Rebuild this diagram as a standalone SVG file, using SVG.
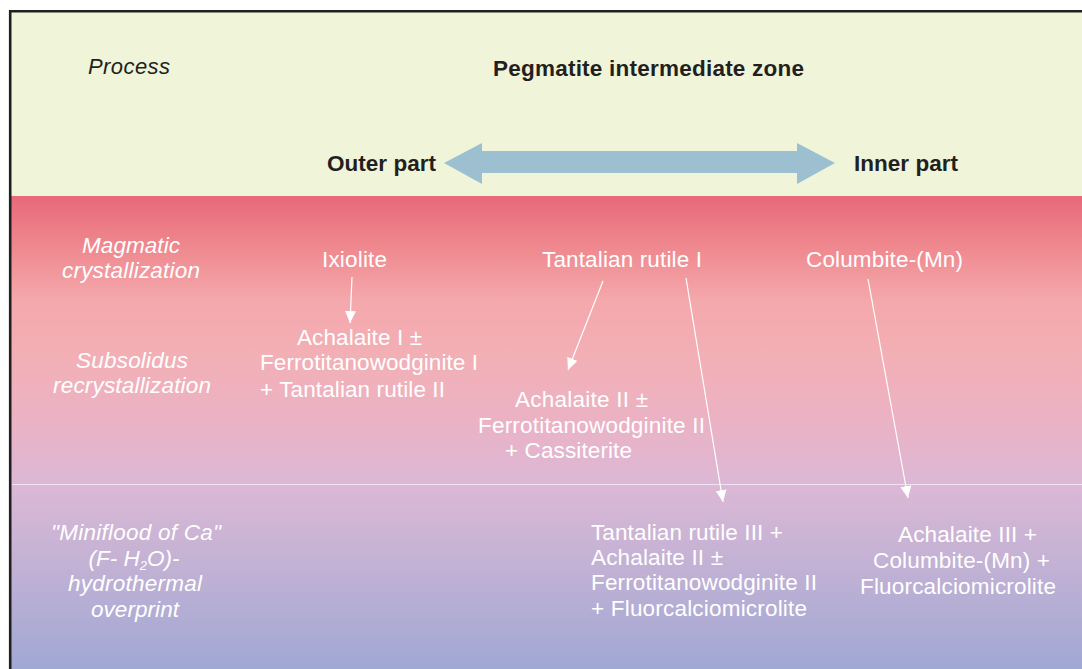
<svg xmlns="http://www.w3.org/2000/svg" width="1082" height="669" viewBox="0 0 1082 669">
<defs>
<linearGradient id="bg" x1="0" y1="196" x2="0" y2="669" gradientUnits="userSpaceOnUse">
<stop offset="0" stop-color="#e8697a"/>
<stop offset="0.114" stop-color="#ef8a90"/>
<stop offset="0.22" stop-color="#f4a8ac"/>
<stop offset="0.347" stop-color="#f2b0b6"/>
<stop offset="0.474" stop-color="#ebb2c4"/>
<stop offset="0.609" stop-color="#dcb8d6"/>
<stop offset="0.77" stop-color="#c4b2d4"/>
<stop offset="1" stop-color="#a0a8d4"/>
</linearGradient>
<marker id="ah" viewBox="0 0 12 11" refX="12" refY="5.5" markerWidth="12" markerHeight="11" markerUnits="userSpaceOnUse" orient="auto">
<path d="M0,0 L12,5.5 L0,11 z" fill="#ffffff"/>
</marker>
</defs>
<style>
.dk{font-family:"Liberation Sans",Arial,sans-serif;fill:#231f20;font-size:22px}
.b{font-weight:bold;font-size:22.5px}
.it{font-style:italic}
.w{font-family:"Liberation Sans",Arial,sans-serif;fill:#ffffff;font-size:22.5px}
.lab{font-family:"Liberation Sans",Arial,sans-serif;fill:#ffffff;font-size:22.5px;font-style:italic;text-anchor:middle}
.con{stroke:#ffffff;stroke-width:1.2;fill:none;marker-end:url(#ah)}
</style>
<rect x="0" y="0" width="1082" height="669" fill="#ffffff"/>
<g id="background">
<rect x="11" y="12" width="1071" height="184" fill="#f0f4d8"/>
<rect x="11" y="196" width="1071" height="473" fill="url(#bg)"/>
<line x1="12" y1="484.5" x2="1082" y2="484.5" stroke="#ffffff" stroke-opacity="0.6" stroke-width="1"/>
<path d="M10.2,669 V11.2 H1082" fill="none" stroke="#231f20" stroke-width="2.6"/>
</g>
<g id="header">
<text class="dk it" x="88" y="74" textLength="82">Process</text>
<text class="dk b" x="493" y="76" textLength="311">Pegmatite intermediate zone</text>
<text class="dk b" x="327" y="171" textLength="109">Outer part</text>
<text class="dk b" x="854" y="171" textLength="104">Inner part</text>
<polygon id="zone-arrow" points="444,163 482,143 482,151 797,151 797,143 835,163 797,184 797,173 482,173 482,184" fill="#9dc0d0"/>
</g>
<g id="process-labels">
<text class="lab" x="131" y="253" textLength="98">Magmatic</text>
<text class="lab" x="131" y="278" textLength="138">crystallization</text>
<text class="lab" x="132" y="368" textLength="112">Subsolidus</text>
<text class="lab" x="132" y="393" textLength="158">recrystallization</text>
<text class="lab" x="136" y="540" textLength="170">"Miniflood of Ca"</text>
<text class="lab" x="134" y="566">(F- H<tspan font-size="13" dy="4">2</tspan><tspan dy="-4">O)-</tspan></text>
<text class="lab" x="135" y="591" textLength="134">hydrothermal</text>
<text class="lab" x="135" y="617" textLength="88">overprint</text>
</g>
<g id="ixiolite"><text class="w" x="322" y="267" textLength="65">Ixiolite</text></g>
<g id="tantalian-rutile-1"><text class="w" x="542" y="267" textLength="160">Tantalian rutile I</text></g>
<g id="columbite"><text class="w" x="806" y="267" textLength="157">Columbite-(Mn)</text></g>
<g id="achalaite-1">
<text class="w" x="297" y="345" textLength="125">Achalaite I ±</text>
<text class="w" x="260" y="370" textLength="218">Ferrotitanowodginite I</text>
<text class="w" x="260" y="397" textLength="185">+ Tantalian rutile II</text>
</g>
<g id="achalaite-2">
<text class="w" x="515" y="407" textLength="133">Achalaite II ±</text>
<text class="w" x="478" y="433" textLength="227">Ferrotitanowodginite II</text>
<text class="w" x="505" y="458" textLength="127">+ Cassiterite</text>
</g>
<g id="tantalian-rutile-3">
<text class="w" x="591" y="540" textLength="192">Tantalian rutile III +</text>
<text class="w" x="591" y="565" textLength="132">Achalaite II ±</text>
<text class="w" x="591" y="590" textLength="226">Ferrotitanowodginite II</text>
<text class="w" x="591" y="616" textLength="216">+ Fluorcalciomicrolite</text>
</g>
<g id="achalaite-3">
<text class="w" x="898" y="542" textLength="139">Achalaite III +</text>
<text class="w" x="873" y="568" textLength="177">Columbite-(Mn) +</text>
<text class="w" x="860" y="594" textLength="196">Fluorcalciomicrolite</text>
</g>
<g id="connectors">
<line class="con" x1="352" y1="277" x2="350" y2="323"/>
<line class="con" x1="603" y1="281" x2="568" y2="370"/>
<line class="con" x1="686" y1="278" x2="723" y2="502"/>
<line class="con" x1="868" y1="279" x2="908" y2="498"/>
</g>
</svg>
